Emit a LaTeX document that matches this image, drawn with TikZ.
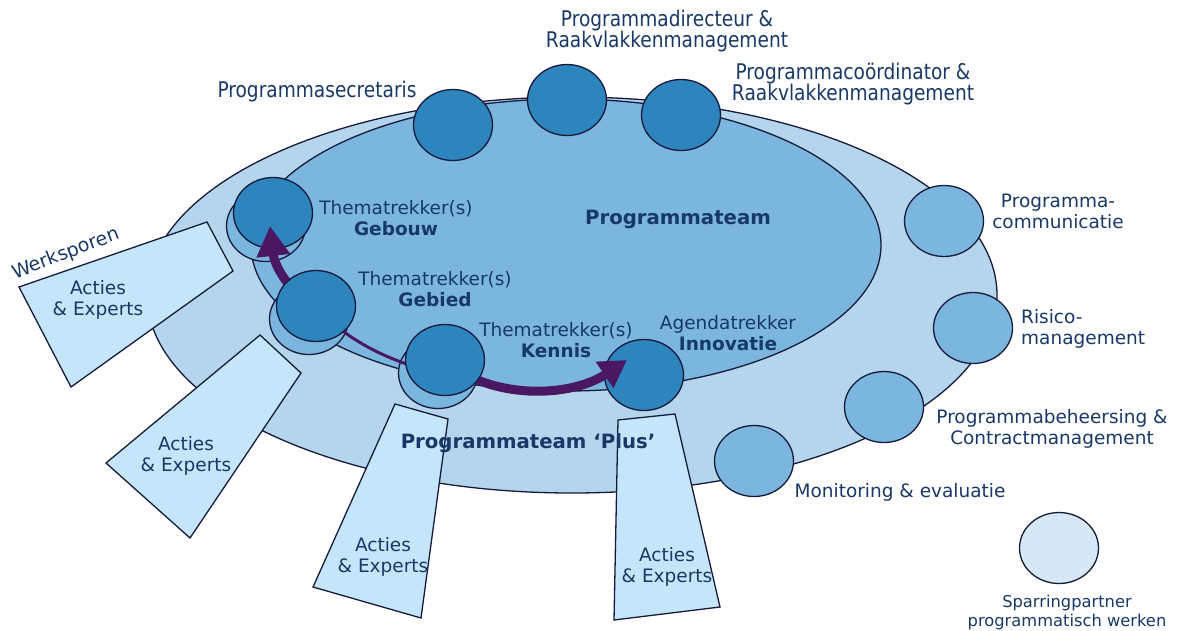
\documentclass[tikz,border=0pt]{standalone}
\usepackage{fontspec}
\setmainfont{DejaVu Sans}
\newfontfamily\condfont[FakeStretch=0.86]{DejaVu Sans}
\usetikzlibrary{shapes.geometric,arrows.meta,positioning}
\definecolor{outerblue}{RGB}{180,213,236}
\definecolor{innerblue}{RGB}{122,182,222}
\definecolor{darkblue}{RGB}{46,132,189}
\definecolor{boxblue}{RGB}{197,229,250}
\definecolor{paleblue}{RGB}{214,232,245}
\definecolor{edgecol}{RGB}{22,26,60}
\definecolor{navy}{RGB}{24,56,104}
\definecolor{darkpurple}{RGB}{74,24,96}

\begin{document}
\begin{tikzpicture}[x=1pt,y=-1pt,
    circ/.style={ellipse,draw=edgecol,line width=1.3pt,minimum width=79pt,minimum height=71pt,inner sep=0pt},
    dkcirc/.style={circ,fill=darkblue},
    mdcirc/.style={circ,fill=innerblue},
    werkbox/.style={draw=edgecol,line width=1.3pt,fill=boxblue},
    txt/.style={text=navy,font=\fontsize{18.5}{21}\selectfont,align=center,inner sep=0pt},
    toptxt/.style={text=navy,font=\condfont\fontsize{21.6}{21.5}\selectfont,align=center,inner sep=0pt},
    bigtxt/.style={text=navy,font=\bfseries\fontsize{19.7}{22}\selectfont,inner sep=0pt},
    flow/.style={darkpurple,line width=9pt,-{Triangle[width=32pt,length=30pt]}}]
  \useasboundingbox (0,0) rectangle (1177,630);
  % Draw the two team ellipses
  \node[ellipse,draw=edgecol,line width=1.3pt,fill=outerblue,minimum width=850pt,minimum height=396pt] (plus) at (572,295) {};
  \node[ellipse,draw=edgecol,line width=1.3pt,fill=innerblue,minimum width=630pt,minimum height=292pt] (team) at (566,245) {};
  % Werksporen
  \draw[werkbox] (19,287) -- (207,222) -- (233,271) -- (71,387) -- cycle;
  \draw[werkbox] (106,463) -- (260,335) -- (301,373) -- (190,538) -- cycle;
  \draw[werkbox] (313,587) -- (395,404) -- (448,419) -- (421,618) -- cycle;
  \draw[werkbox] (614,620) -- (618,420) -- (675,414) -- (720,607) -- cycle;
  % Circles on the rim
  \node[dkcirc] (secr) at (453,125) {};
  \node[dkcirc] (dir) at (567,100) {};
  \node[dkcirc] (coord) at (681,115) {};
  \node[mdcirc] (comm) at (944,221) {};
  \node[mdcirc] (risk) at (973,328) {};
  \node[mdcirc] (beheer) at (884,407) {};
  \node[mdcirc] (monit) at (754,461) {};
  \node[circ,fill=paleblue] (spar) at (1059,548) {};
  % Thematrekkers with their shadows
  \coordinate (gebiedpt) at (316,306);
  \coordinate (kennispt) at (445,360);
  \node[mdcirc] (gebiedsh) at (309,319) {};
  \node[mdcirc] (kennissh) at (438,373) {};
  \node[mdcirc] (gebouwsh) at (266,226) {};
  \node[dkcirc] (gebouw) at (273,213) {};
  \node[dkcirc] (innov) at (644,375) {};
  \coordinate (gebouwtip) at (270,226);
  \coordinate (innovtip) at (627,360);
  \draw[flow] (gebiedpt) .. controls (285,290) and (274,262) .. (gebouwtip);
  \draw[darkpurple,line width=3pt] (gebiedpt) .. controls (345,340) and (390,362) .. (kennissh.center);
  \draw[flow,-{Triangle[width=30pt,length=27pt]}] (kennispt) .. controls (490,400) and (570,398) .. (innovtip);
  \node[dkcirc] (gebied) at (gebiedpt) {};
  \node[dkcirc] (kennis) at (kennispt) {};
  % Labels
  \node[toptxt] (secrlab) at (317,92) {Programmasecretaris};
  \node[toptxt] (dirlab) at (667,31) {Programmadirecteur \&\\Raakvlakkenmanagement};
  \node[toptxt] (coordlab) at (853,84) {Programmacoördinator \&\\Raakvlakkenmanagement};
  \node[txt] (commlab) at (1058,211) {Programma-\\communicatie};
  \node[txt,align=left,anchor=west] (risklab) at (1021,329) {Risico-\\management};
  \node[txt] (beheerlab) at (1052,429) {Programmabeheersing \&\\Contractmanagement};
  \node[txt] (monitlab) at (900,492) {Monitoring \& evaluatie};
  \node[txt,font=\fontsize{16.3}{19}\selectfont] (sparlab) at (1067,612) {Sparringpartner\\programmatisch werken};
  \node[txt] (gebouwlab) at (396,218) {Thematrekker(s)\\\textbf{Gebouw}};
  \node[txt] (gebiedlab) at (435,289) {Thematrekker(s)\\\textbf{Gebied}};
  \node[txt] (kennislab) at (556,340) {Thematrekker(s)\\\textbf{Kennis}};
  \node[txt] (innovlab) at (728,333) {Agendatrekker\\\textbf{Innovatie}};
  \node[bigtxt] (teamlab) at (678,219) {Programmateam};
  \node[bigtxt] (pluslab) at (528,443) {Programmateam ‘Plus’};
  \node[txt,font=\fontsize{19}{21}\selectfont,rotate=21] (werklab) at (66,254) {Werksporen};
  \node[txt] (act1) at (98,300) {Acties\\\& Experts};
  \node[txt] (act2) at (186,456) {Acties\\\& Experts};
  \node[txt] (act3) at (383,557) {Acties\\\& Experts};
  \node[txt] (act4) at (667,567) {Acties\\\& Experts};
\end{tikzpicture}
\end{document}
